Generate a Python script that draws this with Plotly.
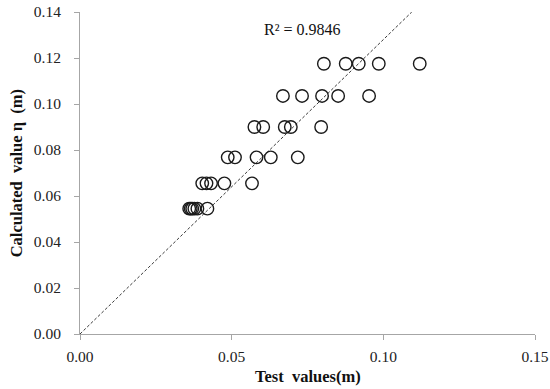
import plotly.graph_objects as go

# Test values (m) and calculated values (m)
test_values = [
    0.0804, 0.0876, 0.0919, 0.0985, 0.1120,
    0.0669, 0.0732, 0.0798, 0.0851, 0.0953,
    0.0575, 0.0604, 0.0675, 0.0695, 0.0795,
    0.0487, 0.0511, 0.0582, 0.0629, 0.0718,
    0.0403, 0.0417, 0.0432, 0.0476, 0.0567,
    0.0360, 0.0365, 0.0370, 0.0377, 0.0387, 0.0420,
]
calc_values = [
    0.1175, 0.1175, 0.1175, 0.1175, 0.1175,
    0.1035, 0.1035, 0.1035, 0.1035, 0.1035,
    0.0900, 0.0900, 0.0900, 0.0900, 0.0900,
    0.0768, 0.0768, 0.0768, 0.0768, 0.0768,
    0.0655, 0.0655, 0.0655, 0.0655, 0.0655,
    0.0545, 0.0545, 0.0545, 0.0545, 0.0545, 0.0545,
]
trend_slope = 1.28
r2_text = "R² = 0.9846"
x_ticks = [0.00, 0.05, 0.10, 0.15]
y_ticks = [0.00, 0.02, 0.04, 0.06, 0.08, 0.10, 0.12, 0.14]

y_max = 0.14
trend_x = [0.0, y_max / trend_slope]
trend_y = [0.0, y_max]

SERIF = "Liberation Serif"

fig = go.Figure()
fig.add_trace(go.Scatter(
    x=trend_x, y=trend_y, mode="lines",
    line=dict(color="#3a3a3a", width=1, dash="3px,2px"),
    hoverinfo="skip", showlegend=False,
))
fig.add_trace(go.Scatter(
    x=test_values, y=calc_values, mode="markers",
    marker=dict(symbol="circle-open", size=12.5, color="#1a1a1a",
                line=dict(width=1.4, color="#1a1a1a")),
    showlegend=False, cliponaxis=False,
))

fig.add_annotation(x=0.0735, y=0.1326, xref="x", yref="y", text=r2_text,
                   showarrow=False,
                   font=dict(family=SERIF, size=16, color="#111111"))

axis_common = dict(
    showgrid=False, zeroline=False, showline=True, linecolor="#a6a6a6",
    linewidth=1, ticks="outside", ticklen=5, tickcolor="#a6a6a6",
    tickfont=dict(family=SERIF, size=15.5, color="#222222"),
    tickformat=".2f", automargin=False,
)
fig.update_xaxes(range=[0, 0.15], tickvals=x_ticks, **axis_common,
                 ticklabelstandoff=3)
fig.update_yaxes(range=[0, 0.14], tickvals=y_ticks, **axis_common,
                 ticklabelstandoff=10)

fig.add_annotation(xref="x", yref="paper", x=0.075, y=-0.133, yanchor="middle",
                   text="<b>Test  values(m)</b>", showarrow=False,
                   font=dict(family=SERIF, size=16.5, color="#111111"))
fig.add_annotation(xref="paper", yref="y", x=-0.14, y=0.07, xanchor="center",
                   text="<b>Calculated  value η  (m)</b>", showarrow=False,
                   textangle=-90,
                   font=dict(family=SERIF, size=16.5, color="#111111"))

fig.update_layout(
    width=550, height=389,
    margin=dict(l=80, r=15, t=12, b=55),
    paper_bgcolor="white", plot_bgcolor="white",
)
fig.write_html("out.html",
               config={"displayModeBar": False},
               post_script="document.body.style.margin='0';document.body.style.overflow='hidden';")
